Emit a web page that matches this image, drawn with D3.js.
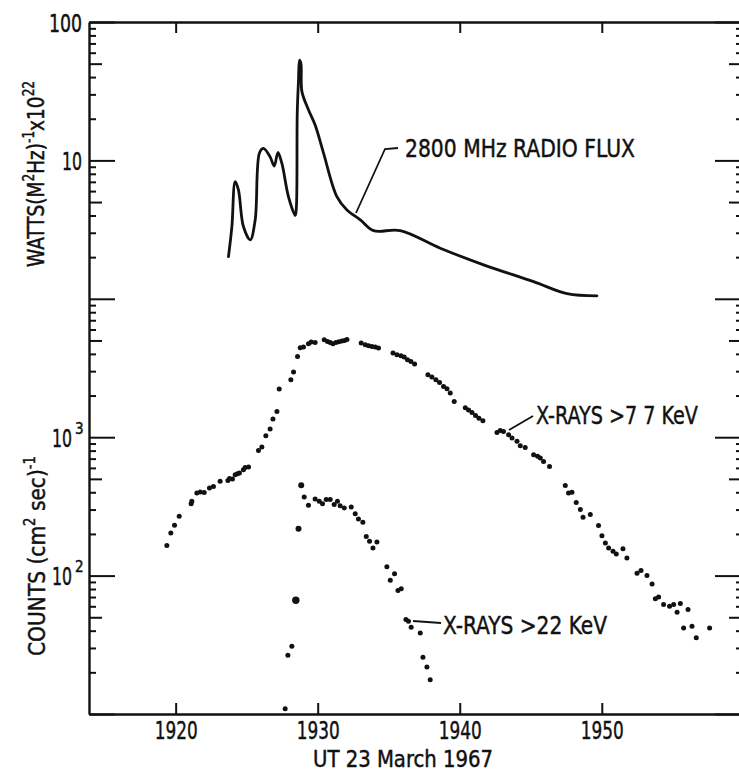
<!DOCTYPE html>
<html><head><meta charset="utf-8">
<script src="https://cdn.jsdelivr.net/npm/d3@7"></script>
<style>
body{margin:0;background:#fff;}
text{font-family:"DejaVu Sans Condensed","Liberation Sans Narrow","DejaVu Sans",sans-serif;fill:#111;stroke:#111;stroke-width:0.45px;}
</style></head><body>
<svg id="c" width="739" height="775"></svg>
<script>
// ---- data (UT minutes, 23 March 1967) ----
const radioTime=[1923.72,1923.96,1924.19,1924.42,1924.77,1925.25,1925.6,1925.9,1926.18,1926.65,1926.94,1927.2,1927.48,1927.94,1928.42,1928.5,1928.56,1928.65,1928.72,1928.82,1928.89,1929.35,1929.82,1930.41,1931.35,1932.06,1933.0,1933.93,1935.81,1938.63,1941.68,1945.2,1947.55,1949.66];
const radioFlux=[2.02,3.33,7.03,6.12,3.33,2.67,3.72,11.3,12.2,10.6,9.1,11.4,9.5,5.48,4.0,4.6,21.9,38,53,50,31.4,23.2,18.0,11.3,5.48,4.39,3.72,3.11,3.11,2.32,1.76,1.33,1.09,1.05];
const soft77Time=[1919.38,1919.66,1919.92,1920.25,1921.09,1921.14,1921.49,1921.73,1922.01,1922.38,1922.66,1923.13,1923.68,1923.79,1924.0,1924.19,1924.35,1924.49,1924.77,1924.89,1925.13,1925.83,1926.07,1926.35,1926.65,1926.85,1927.13,1927.29,1928.11,1928.3,1928.58,1928.77,1929.0,1929.35,1929.54,1929.82,1930.46,1930.69,1930.88,1931.07,1931.28,1931.49,1931.7,1931.89,1932.06,1933.06,1933.35,1933.58,1933.82,1934.05,1934.28,1935.3,1935.58,1935.86,1936.09,1936.32,1936.56,1936.82,1937.76,1938.04,1938.32,1938.58,1938.86,1939.1,1939.33,1939.61,1940.39,1940.62,1940.86,1941.11,1941.35,1941.63,1942.62,1942.85,1943.08,1943.44,1943.68,1944.03,1944.26,1944.61,1945.2,1945.48,1945.67,1945.9,1946.32,1947.43,1947.66,1947.9,1948.2,1948.49,1948.68,1949.19,1949.77,1950.01,1950.25,1950.48,1950.79,1951.02,1951.49,1951.77,1952.48,1952.76,1953.18,1953.54,1953.77,1954.0,1954.35,1954.77,1955.06,1955.3,1955.53,1956.07,1955.76,1956.35,1956.65,1957.59];
const soft77Counts=[165,203,231,268,331,344,395,402,399,430,441,480,487,504,499,536,545,551,582,603,609,803,849,1026,1146,1353,1536,2229,2602,2956,3831,4429,4478,4732,4868,4840,5058,4920,4840,4732,4840,4896,4955,5000,5082,4787,4654,4578,4525,4478,4404,4055,3945,3875,3796,3630,3527,3378,2827,2721,2602,2487,2327,2239,2084,1812,1633,1571,1510,1436,1371,1315,1083,1119,1101,1042,986,933,869,844,748,727,708,668,615,447,395,400,338,300,264,276,230,194,172,158,150,143,156,134,104,109,100,87,68,70,61.8,60,61.8,54.3,62.8,56.9,41.9,43.0,35.5,41.9];
const hard22Time=[1927.71,1927.9,1928.18,1928.46,1928.65,1928.84,1929.05,1929.35,1929.82,1930.11,1930.34,1930.6,1930.88,1931.16,1931.39,1931.58,1931.87,1932.36,1932.64,1932.87,1933.18,1933.42,1933.65,1933.89,1934.17,1934.87,1935.11,1935.41,1935.65,1935.88,1936.21,1936.39,1936.58,1937.22,1937.41,1937.69,1937.92];
const hard22Counts=[10.9,26.6,30.9,66.3,218,449,370,322,358,344,331,354,354,326,344,320,308,313,280,256,243,192,177,158,175,116,92.5,103,78,80.5,48.1,46.8,42.4,38.5,25.7,21.9,17.7];
const xTickValues=[1920,1930,1940,1950];
const yLabelValues=[1e6,1e5,1e3,1e2];           // in count units; top two labelled in watts units
const yLabelText={1e6:["100",""],1e5:["10",""],1e3:["10","3"],1e2:["10","2"]};

// ---- layout ----
const L=89,R=741,T=22,B=714;
const svg=d3.select("#c");
svg.append("rect").attr("width",739).attr("height",775).attr("fill","#fff");
const x=d3.scaleLinear().domain([1913.9,1959.8]).range([L,R]);
const yC=d3.scaleLog().domain([10,1e6]).range([B,T]);      // counts (cm^2 sec)^-1
const yW=d3.scaleLog().domain([1e-3,1e2]).range([B,T]);    // watts (m^2 Hz)^-1 x 10^22

const decades=[10,100,1e3,1e4,1e5,1e6];
const minor=[],fives=[];
for(const d of decades.slice(0,5)){for(let m=2;m<=9;m++){if(m===5)fives.push(d*m);else minor.push(d*m);}}

function ticks(gen,tr,vals,size,keepDomain){
  const g=svg.append("g").attr("transform",tr)
    .call(gen.tickValues(vals).tickSize(size).tickSizeOuter(0).tickFormat(""));
  g.selectAll(".tick line").attr("stroke","#111").attr("stroke-width",2);
  g.selectAll(".tick text").remove();
  if(keepDomain) g.select(".domain").attr("stroke","#111").attr("stroke-width",2.4);
  else g.select(".domain").remove();
  return g;
}
// left axis (ticks inward)
ticks(d3.axisRight(yC),`translate(${L},0)`,decades,26,true);
ticks(d3.axisRight(yC),`translate(${L},0)`,minor,7,false);
ticks(d3.axisRight(yC),`translate(${L},0)`,fives,13,false);
// right axis (ticks inward)
ticks(d3.axisLeft(yC),`translate(${R},0)`,decades,26,false);
ticks(d3.axisLeft(yC),`translate(${R},0)`,minor,5,false);
ticks(d3.axisLeft(yC),`translate(${R},0)`,fives,12,false);
// bottom & top
ticks(d3.axisTop(x),`translate(0,${B})`,xTickValues,11,true);
ticks(d3.axisBottom(x),`translate(0,${T})`,xTickValues,11,true);

// y labels
const yl=svg.append("g").attr("transform",`translate(${L},0)`)
  .call(d3.axisLeft(yC).tickValues(yLabelValues).tickSize(0).tickPadding(8).tickFormat(""));
yl.select(".domain").remove();
yl.selectAll(".tick").each(function(d){
  const g=d3.select(this);
  const [base,sup]=yLabelText[d];
  const t=g.select("text").attr("font-size",25).attr("fill","#111").attr("dy","0.36em")
    .attr("x",0).text(base)
    .attr("transform",`translate(${sup?-17:-7},0) scale(${base.length===3?0.77:0.7},1)`);
  if(sup){
    g.append("text").attr("x",-14).attr("y",-4).attr("font-size",15).attr("text-anchor","start").text(sup);
  }
});
// x labels
const xl=svg.append("g").attr("transform",`translate(0,${B})`)
  .call(d3.axisBottom(x).tickValues(xTickValues).tickSize(0).tickPadding(7).tickFormat(d3.format("d")));
xl.select(".domain").remove();
xl.selectAll(".tick text").attr("font-size",25).attr("fill","#111")
  .attr("textLength",43).attr("lengthAdjust","spacingAndGlyphs");

// radio flux curve
const line=d3.line().x((d,i)=>x(radioTime[i])).y(d=>yW(d)).curve(d3.curveCatmullRom.alpha(0.5));
svg.append("path").attr("d",line(radioFlux)).attr("fill","none").attr("stroke","#111")
  .attr("stroke-width",2.8).attr("stroke-linejoin","round").attr("stroke-linecap","round");

// x-ray points
svg.append("g").selectAll("circle").data(d3.zip(soft77Time,soft77Counts)).join("circle")
  .attr("cx",d=>x(d[0])).attr("cy",d=>yC(d[1])).attr("r",2.5).attr("fill","#111");
svg.append("g").selectAll("circle").data(d3.zip(hard22Time,hard22Counts)).join("circle")
  .attr("cx",d=>x(d[0])).attr("cy",d=>yC(d[1])).attr("r",(d,i)=>(i===3?3.7:(i===4||i===5)?3:2.5)).attr("fill","#111");

// annotations
const ann=svg.append("g").attr("stroke","#111").attr("stroke-width",1.8).attr("fill","none");
ann.append("polyline").attr("points","356,213 385,149 398,148");
ann.append("line").attr("x1",509).attr("y1",430).attr("x2",533).attr("y2",416);
ann.append("line").attr("x1",413).attr("y1",621).attr("x2",441).attr("y2",623);

function label(txt,xp,yp,len,size){
  return svg.append("text").attr("x",xp).attr("y",yp).attr("font-size",size||25)
    .attr("textLength",len).attr("lengthAdjust","spacingAndGlyphs").text(txt);
}
label("2800 MHz RADIO FLUX",405,157,230);
label("X-RAYS >7 7 KeV",536,424,162);
label("X-RAYS >22 KeV",443,634,164);
label("UT 23 March 1967",313,767,180,23);

// y titles
function vtitle(parts,cx,cy,len){
  const t=svg.append("text").attr("transform",`translate(${cx},${cy}) rotate(-90)`)
    .attr("text-anchor","middle").attr("font-size",23)
    .attr("textLength",len).attr("lengthAdjust","spacingAndGlyphs");
  let up=false;
  for(const [s,sup] of parts){
    const ts=t.append("tspan").text(s);
    if(sup&&!up){ts.attr("font-size",15).attr("dy",-10);up=true;}
    else if(!sup&&up){ts.attr("dy",10);up=false;}
  }
}
vtitle([["WATTS(M",0],["2",1],["Hz)",0],["-1",1],["x10",0],["22",1]],44,174,186);
vtitle([["COUNTS (cm",0],["2",1],[" sec)",0],["-1",1]],45,556,200);
</script></body></html>
